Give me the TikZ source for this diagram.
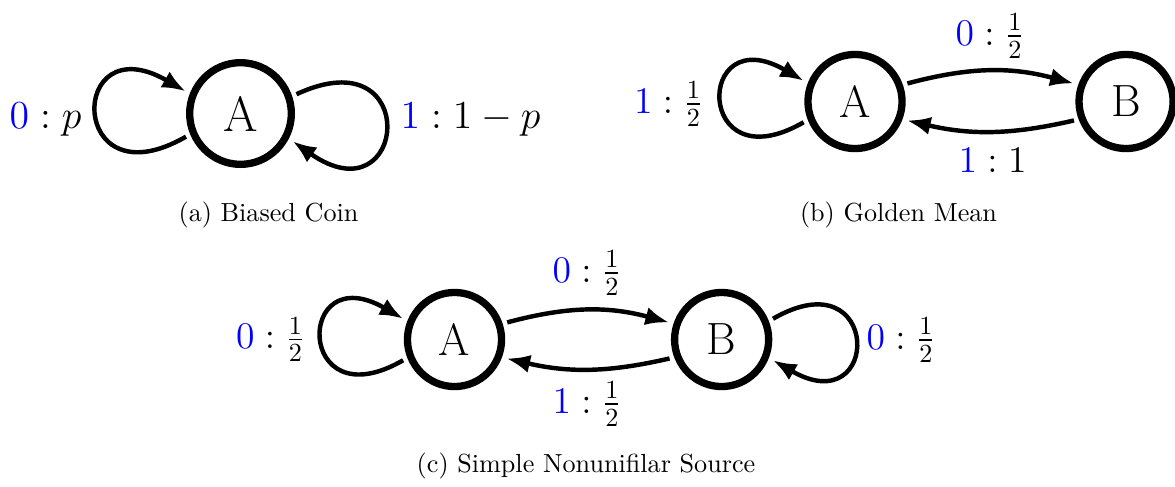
\RequirePackage{fix-cm}
\documentclass[tikz,border=0pt]{standalone}
\usepackage{amsmath}
\usetikzlibrary{arrows.meta, positioning}
\definecolor{symbol}{HTML}{0000FF}
\newcommand{\outsym}[1]{\textcolor{symbol}{#1}}
\tikzset{
  state/.style  ={circle, draw, line width=2.8pt, minimum size=36pt,
                  inner sep=0pt, outer sep=3.2pt, font=\LARGE},
  statea/.style ={state, minimum size=38.9pt,
                  font=\fontsize{19}{22}\selectfont},
  flow/.style   ={-{Latex[length=9pt,width=7pt]}, line width=1.7pt},
  tag/.style    ={font=\Large, inner sep=0pt},
  taga/.style   ={tag, font=\fontsize{15.2}{18}\selectfont},
  caption/.style={font=\normalsize, inner sep=0pt}
}

\begin{document}
\begin{tikzpicture}[x=0.3826pt, y=0.3826pt]
  \useasboundingbox (0,0) rectangle (1175,-486);

  % (a) biased coin
  \node[statea] (coinA) at (240.5,-113.5) {A};
  \node[taga] (coinL) at (45.5,-120) {$\outsym{0} : p$};
  \node[taga] (coinR) at (470.5,-120) {$\outsym{1} : 1-p$};
  \node[caption] (capA) at (268.5,-215) {(a) Biased Coin};

  \draw[flow] (coinA.203) .. controls +(210:137) and +(150:137) .. (coinA.158);
  \draw[flow] (coinA.19) .. controls +(25:140) and +(-35:140) .. (coinA.-28);

  % (b) golden mean
  \node[state] (goldA) at (855,-101.5) {A};
  \node[state, right=61.3pt of goldA] (goldB) {B};
  \node[tag] (goldL) at (668.5,-104) {$\outsym{1} : \frac{1}{2}$};
  \node[tag] (goldT) at (990,-36) {$\outsym{0} : \frac{1}{2}$};
  \node[tag] (goldD) at (992.5,-160) {$\outsym{1} : 1$};
  \node[caption] (capB) at (898.5,-215) {(b) Golden Mean};

  \draw[flow] (goldA.202) .. controls +(210:126) and +(150:126) .. (goldA.158);
  \draw[flow] (goldA.19) to[bend left=15] (goldB.161);
  \draw[flow] (goldB.200) to[bend left=13] (goldA.340);

  % (c) simple nonunifilar source
  \node[state] (snsA) at (454.5,-339.5) {A};
  \node[state, right=59.8pt of snsA] (snsB) {B};
  \node[tag] (snsL) at (270.5,-339.5) {$\outsym{0} : \frac{1}{2}$};
  \node[tag] (snsR) at (901,-340) {$\outsym{0} : \frac{1}{2}$};
  \node[tag] (snsT) at (587,-273) {$\outsym{0} : \frac{1}{2}$};
  \node[tag] (snsD) at (587,-404) {$\outsym{1} : \frac{1}{2}$};
  \node[caption] (capC) at (586,-466) {(c) Simple Nonunifilar Source};

  \draw[flow] (snsA.202) .. controls +(210:125) and +(150:125) .. (snsA.158);
  \draw[flow] (snsB.22) .. controls +(30:126) and +(-30:126) .. (snsB.-22);
  \draw[flow] (snsA.18) to[bend left=15] (snsB.162);
  \draw[flow] (snsB.200) to[bend left=13] (snsA.340);

\end{tikzpicture}
\end{document}
